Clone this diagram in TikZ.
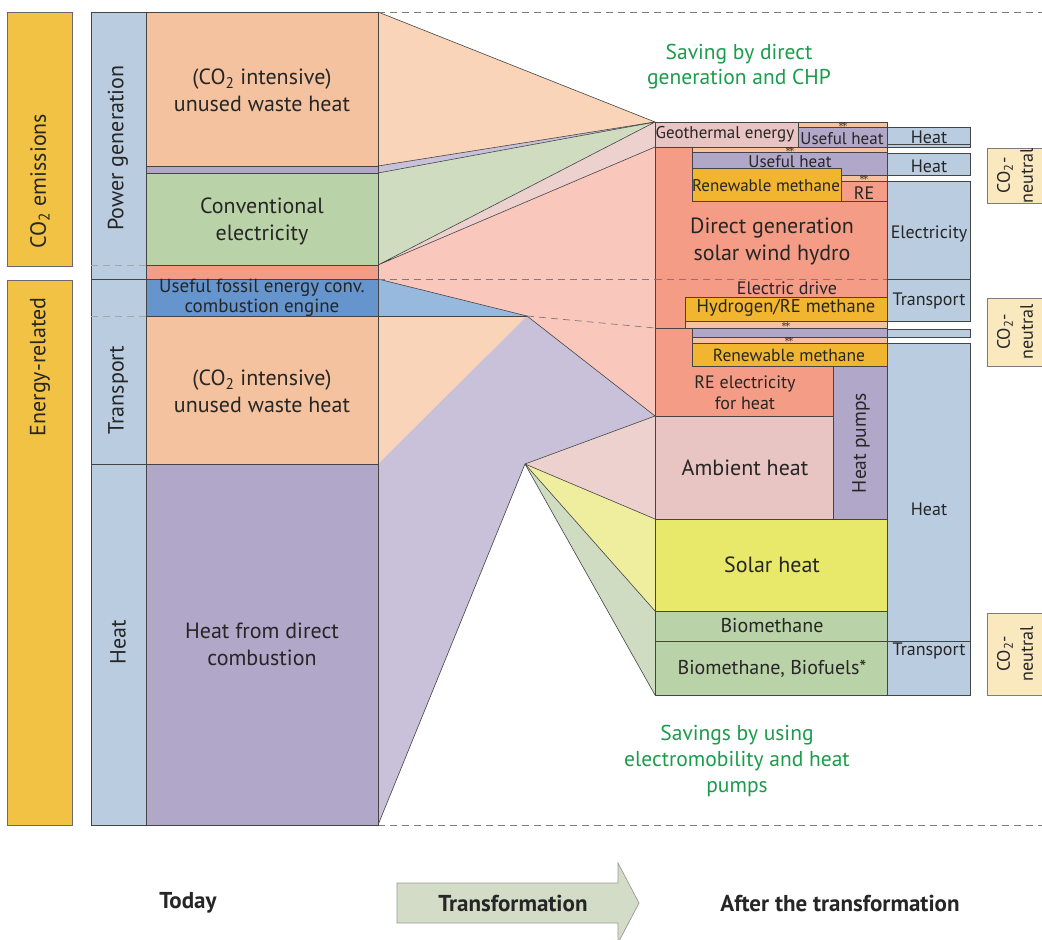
\documentclass[tikz,border=0pt]{standalone}
\usepackage{fontspec}
\setmainfont{PT Sans}
\usetikzlibrary{positioning}
\definecolor{EmissionYellow}{HTML}{F2C244}
\definecolor{SectorBlue}{HTML}{B9CCE0}
\definecolor{WasteOrange}{HTML}{F4C29F}
\definecolor{WasteFan}{HTML}{FAD4B9}
\definecolor{HeatPurple}{HTML}{B1A7C9}
\definecolor{HeatFan}{HTML}{C8C1D9}
\definecolor{ElecGreen}{HTML}{BAD2A8}
\definecolor{ElecFan}{HTML}{CFDCC0}
\definecolor{ReRed}{HTML}{F49C86}
\definecolor{ReFan}{HTML}{FAC7BD}
\definecolor{FossilBlue}{HTML}{6595CC}
\definecolor{FossilFan}{HTML}{98B9DE}
\definecolor{AmbientRose}{HTML}{E8C4C3}
\definecolor{AmbientFan}{HTML}{EDD1CE}
\definecolor{SolarYellow}{HTML}{E8E86B}
\definecolor{SolarFan}{HTML}{EFEE9F}
\definecolor{BioGreen}{HTML}{BAD2A7}
\definecolor{BioFan}{HTML}{CFDCC2}
\definecolor{MethaneYellow}{HTML}{F2B530}
\definecolor{NeutralBeige}{HTML}{FAE8BE}
\definecolor{SavingGreen}{HTML}{1B9B4B}
\definecolor{ArrowGreen}{HTML}{D3DCC6}
\definecolor{LineGray}{HTML}{444444}
\definecolor{TextGray}{HTML}{262626}
\tikzstyle{box} = [draw=LineGray, line width=0.7pt]
\tikzstyle{fan} = [draw=LineGray, line width=0.6pt, line join=round]
\tikzstyle{guide} = [draw=LineGray!70, line width=0.7pt, dash pattern=on 7pt off 5pt]
\tikzstyle{bigtext} = [text=TextGray, align=center, inner sep=0pt, font=\fontsize{22}{27}\selectfont]
\tikzstyle{midtext} = [text=TextGray, align=center, inner sep=0pt, font=\fontsize{18}{21}\selectfont]
\tikzstyle{tinytext} = [text=black, inner sep=0pt, font=\fontsize{11}{11}\selectfont]
\tikzstyle{savetext} = [text=SavingGreen, align=center, inner sep=0pt, font=\fontsize{21.5}{25}\selectfont]
\tikzstyle{steptext} = [text=TextGray, inner sep=0pt, font=\fontsize{23}{26}\selectfont\bfseries]
\newcommand{\twostars}{\smash{$\ast\!\ast$}}

\begin{document}
\begin{tikzpicture}[x=1pt, y=-1pt]
    \useasboundingbox (0,0) rectangle (1042,940);

    % Fans from today to after the transformation
    \fill[WasteFan] (378,12) -- (655,122) -- (378,166) -- cycle;
    \fill[HeatFan] (378,166) -- (655,122) -- (378,173) -- cycle;
    \fill[ElecFan] (378,173) -- (655,122) -- (378,265) -- cycle;
    \fill[AmbientFan] (378,265) -- (655,122) -- (655,147) -- cycle;
    \fill[ReFan] (378,265) -- (655,147) -- (655,416) -- (527,316) -- (378,279) -- cycle;
    \fill[FossilFan] (378,279) -- (527,316) -- (378,316) -- cycle;
    \fill[WasteFan] (378,316) -- (527,316) -- (378,464) -- cycle;
    \fill[HeatFan] (527,316) -- (655,416) -- (525,464) -- (378,825) -- (378,464) -- cycle;
    \fill[AmbientFan] (525,464) -- (655,416) -- (655,519) -- cycle;
    \fill[SolarFan] (525,464) -- (655,519) -- (655,611) -- cycle;
    \fill[BioFan] (525,464) -- (655,611) -- (655,695) -- cycle;

    % Fan edges
    \draw[fan] (378,12) -- (655,122) -- (378,166);
    \draw[fan] (378,173) -- (655,122) -- (378,265) -- (655,147);
    \draw[fan] (378,279) -- (527,316) -- (655,416) -- (525,464) -- (378,825);
    \draw[fan] (655,519) -- (525,464) -- (655,611);
    \draw[fan] (525,464) -- (655,695);
    \draw[fan] (378,316) -- (527,316);

    % Dashed guides
    \draw[guide] (378,12) -- (1042,12);
    \draw[guide] (378,825) -- (1042,825);
    \draw[guide] (378,279) -- (887,279);
    \draw[guide] (527,316) -- (655,328);

    % Left: emission categories
    \draw[box, draw=LineGray!80, fill=EmissionYellow] (7,12) rectangle (72,266);
    \draw[box, draw=LineGray!80, fill=EmissionYellow] (7,280) rectangle (72,825);
    \node[bigtext, rotate=90] (emissions) at (40,181) {CO\textsubscript{2} emissions};
    \node[bigtext, rotate=90] (energy) at (40,367) {Energy-related};

    % Left: sectors
    \draw[box, fill=SectorBlue] (91,12) rectangle (146,279);
    \draw[box, fill=SectorBlue] (91,279) rectangle (146,464);
    \draw[box, fill=SectorBlue] (91,464) rectangle (146,825);
    \draw[guide, draw=gray!70] (91,265) -- (146,265);
    \draw[guide, draw=gray!70] (91,316) -- (146,316);
    \node[bigtext, rotate=90] (powergen) at (118,148) {Power generation};
    \node[bigtext, rotate=90] (transportL) at (118,390) {Transport};
    \node[bigtext, rotate=90] (heatL) at (118,642) {Heat};

    % Today
    \draw[box, fill=WasteOrange] (146,12) rectangle (378,166);
    \draw[box, fill=HeatPurple] (146,166) rectangle (378,173);
    \draw[box, fill=ElecGreen] (146,173) rectangle (378,265);
    \draw[box, fill=ReRed] (146,265) rectangle (378,279);
    \draw[box, fill=FossilBlue] (146,279) rectangle (378,316);
    \draw[box, fill=WasteOrange] (146,316) rectangle (378,464);
    \draw[box, fill=HeatPurple] (146,464) rectangle (378,825);
    \node[bigtext] (wastepower) at (262,90) {(CO\textsubscript{2} intensive)\\unused waste heat};
    \node[bigtext] (conventional) at (262,221) {Conventional\\electricity};
    \node[midtext, font=\fontsize{19}{20}\selectfont] (fossil) at (262,298) {Useful fossil energy conv.\\combustion engine};
    \node[bigtext] (wastetransport) at (262,391) {(CO\textsubscript{2} intensive)\\unused waste heat};
    \node[bigtext] (combustion) at (262,644) {Heat from direct\\combustion};

    % After the transformation: final energy columns
    \draw[box, fill=SectorBlue] (887,127) rectangle (970,144);
    \draw[box, fill=SectorBlue] (887,144) rectangle (970,147);
    \draw[box, fill=SectorBlue] (887,153) rectangle (970,175);
    \draw[box, fill=SectorBlue] (887,181) rectangle (970,279);
    \draw[box, fill=SectorBlue] (887,279) rectangle (970,321);
    \draw[box, fill=SectorBlue] (887,329) rectangle (970,337);
    \draw[box, fill=SectorBlue] (887,343) rectangle (970,641);
    \draw[box, fill=SectorBlue] (887,641) rectangle (970,695);
    \node[midtext] (heatA) at (929,137) {Heat};
    \node[midtext] (heatB) at (929,166) {Heat};
    \node[midtext] (electricity) at (929,234) {Electricity};
    \node[midtext] (transportA) at (929,301) {Transport};
    \node[midtext] (heatC) at (929,509) {Heat};
    \node[midtext] (transportB) at (929,651) {Transport};

    % Renewable electricity block
    \fill[ReRed] (655,147) rectangle (887,328);
    \fill[ReRed] (655,328) rectangle (833,416);
    \draw[box] (655,147) -- (655,416) -- (833,416);
    \draw[box] (655,147) -- (887,147) -- (887,328);
    \draw[guide] (655,279) -- (887,279);
    \draw[box] (655,328) -- (692,328);

    % Geothermal and useful heat strips
    \draw[box, fill=AmbientRose] (655,122) rectangle (798,147);
    \draw[box, fill=WasteOrange] (798,122) rectangle (887,127);
    \draw[box, fill=HeatPurple] (798,127) rectangle (887,147);
    \draw[box, fill=WasteOrange] (692,147) rectangle (887,152);
    \draw[box, fill=HeatPurple] (692,152) rectangle (887,175);
    \draw[box, fill=WasteOrange] (841,175) rectangle (887,181);
    \draw[box, fill=MethaneYellow] (692,168) rectangle (841,201);
    \draw[box] (841,201) -- (887,201);
    \node[midtext, font=\fontsize{17}{20}\selectfont] (geothermal) at (725,134) {Geothermal energy};
    \node[midtext, font=\fontsize{17}{20}\selectfont] (usefulA) at (842,139) {Useful heat};
    \node[midtext, font=\fontsize{17}{20}\selectfont] (usefulB) at (790,162) {Useful heat};
    \node[midtext, font=\fontsize{17}{20}\selectfont] (methaneA) at (766,186) {Renewable methane};
    \node[midtext, font=\fontsize{18}{20}\selectfont] (re) at (864,193) {RE};
    \node[tinytext] (starsA) at (843,127) {\twostars};
    \node[tinytext] (starsB) at (790,152.5) {\twostars};
    \node[tinytext] (starsC) at (864,180.5) {\twostars};
    \node[bigtext] (direct) at (772,241) {Direct generation\\solar wind hydro};

    % Transport and heat strips
    \node[midtext] (drive) at (787,288) {Electric drive};
    \draw[box, fill=MethaneYellow] (685,297) rectangle (887,321);
    \draw[box, fill=WasteOrange] (685,321) rectangle (887,328);
    \draw[box, fill=HeatPurple] (692,328) rectangle (887,337);
    \draw[box, fill=WasteOrange] (692,337) rectangle (887,343);
    \draw[box, fill=MethaneYellow] (692,343) rectangle (887,366);
    \node[midtext, font=\fontsize{18.5}{20}\selectfont] (hydrogen) at (786,308) {Hydrogen/RE methane};
    \node[tinytext] (starsD) at (786,327.5) {\twostars};
    \node[tinytext] (starsE) at (789,342.5) {\twostars};
    \node[midtext, font=\fontsize{17.5}{20}\selectfont] (methaneB) at (789,355.5) {Renewable methane};
    \node[midtext, font=\fontsize{18}{21}\selectfont] (reheat) at (745,393) {RE electricity\\for heat};
    \draw[box, fill=HeatPurple] (833,366) rectangle (887,519);
    \node[midtext, font=\fontsize{19.5}{20}\selectfont, rotate=90] (pumps) at (861,443) {Heat pumps};

    % Heat from ambient, solar and biomass
    \draw[box, fill=AmbientRose] (655,416) rectangle (833,519);
    \draw[box, fill=SolarYellow] (655,519) rectangle (887,611);
    \draw[box, fill=BioGreen] (655,611) rectangle (887,641);
    \draw[box, fill=BioGreen] (655,641) rectangle (887,695);
    \node[bigtext] (ambient) at (745,468) {Ambient heat};
    \node[bigtext] (solar) at (772,565) {Solar heat};
    \node[midtext, font=\fontsize{20}{22}\selectfont] (biomethane) at (772,626) {Biomethane};
    \node[midtext, font=\fontsize{20}{22}\selectfont] (biofuels) at (772,669) {Biomethane, Biofuels*};

    % CO2-neutral tags
    \foreach \ytop/\ybot [count=\i] in {148/203, 298/366, 613/695} {
            \draw[box, draw=LineGray!70, fill=NeutralBeige] (987,\ytop) rectangle (1060,\ybot);
            \node[midtext, font=\fontsize{18}{23}\selectfont, rotate=90] (neutral\i) at (1015,{(\ytop+\ybot)/2}) {CO\textsubscript{2}-\\neutral};
        }

    % Savings
    \node[savetext] (savingCHP) at (739,67) {Saving by direct\\generation and CHP};
    \node[savetext, font=\fontsize{21.5}{26}\selectfont] (savingHP) at (737,761) {Savings by using\\electromobility and heat\\pumps};

    % Bottom line
    \draw[draw=gray!80, line width=0.7pt, fill=ArrowGreen] (397,883) -- (618,883) -- (618,863) -- (639,903) -- (618,943) -- (618,923) -- (397,923) -- cycle;
    \node[steptext] (today) at (188,903) {Today};
    \node[steptext] (transformation) at (513,903) {Transformation};
    \node[steptext] (after) at (840,903) {After the transformation};
\end{tikzpicture}
\end{document}
